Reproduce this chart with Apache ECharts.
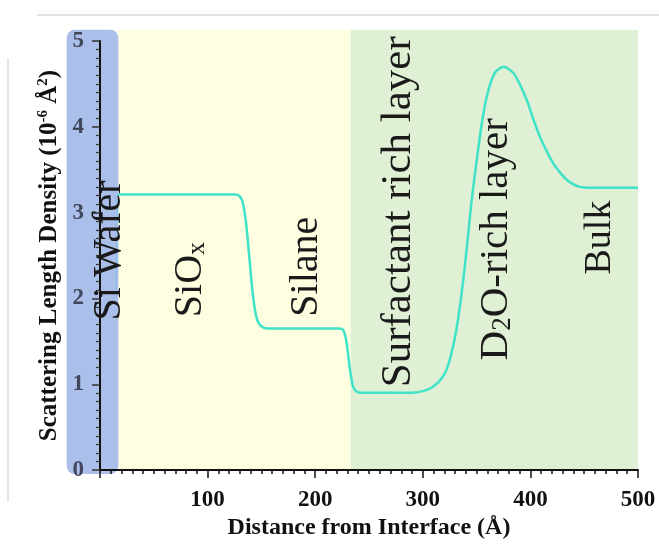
<!DOCTYPE html>
<html>
<head>
<meta charset="utf-8">
<script src="https://cdn.jsdelivr.net/npm/echarts@6/dist/echarts.min.js"></script>
<style>
html,body{margin:0;padding:0;background:#fff;}
#main{width:659px;height:545px;}
</style>
</head>
<body>
<div id="main"></div>
<script>
// SLD profile (distance in Å, SLD in 1e-6 Å^-2)
const distance=[0,14,16.5,20,125,130,133,136,139,142,145,148,152,156,222,226,229,232,235,238,242,
    290,300,308,315,321,326,331,336,341,345,350,355,360,367,375,384,390,397,403,409,415,421,428,434,440,446,455,500];
const sld=[2.07,2.07,3.21,3.21,3.21,3.19,3.1,2.85,2.45,2.05,1.8,1.7,1.66,1.65,1.65,1.63,1.5,1.2,0.98,0.92,0.9,
    0.9,0.92,0.96,1.03,1.14,1.33,1.62,2.05,2.6,3.1,3.6,4.05,4.38,4.63,4.70,4.63,4.5,4.3,4.08,3.88,3.72,3.58,3.46,3.38,3.33,3.30,3.29,3.29];

// layer names and where they sit (Å, SLD)
const layerNames=['Si Wafer','SiO{s|x}','Silane','Surfactant rich layer','D{s|2}O-rich layer','Bulk'];
const layerX=[9,84,192,278,368,465];
const layerY=[2.56,2.22,2.37,3.01,2.69,2.71];
const layerSize=[40,40,40,43,41,38];

// background bands: Si, SiOx+silane, liquid side
const bandFrom=[-31,17,233];
const bandTo=[17,233,500];
const bandColor=['rgba(162,184,233,0.9)','#fefee0','#dff0d4'];

const serif='"Liberation Serif","Times New Roman",serif';

const chart=echarts.init(document.getElementById('main'));

chart.setOption({
    animation:false,
    grid:{left:100,right:21,top:41,bottom:74},
    xAxis:{
        type:'value',min:0,max:500,interval:100,
        name:'Distance from Interface (Å)',
        nameLocation:'middle',nameGap:42,
        nameTextStyle:{fontFamily:serif,fontWeight:'bold',fontSize:24,color:'#111'},
        axisLine:{lineStyle:{color:'#111',width:2}},
        axisTick:{length:8,lineStyle:{color:'#111',width:1.5}},
        minorTick:{show:true,splitNumber:10,length:4,lineStyle:{color:'#111',width:1.5}},
        axisLabel:{fontFamily:serif,fontWeight:'bold',fontSize:23,color:'#111',margin:18,showMinLabel:false},
        splitLine:{show:false},
        z:4
    },
    yAxis:{
        type:'value',min:0,max:5,interval:1,
        name:'Scattering Length Density (10{sup|-6} Å{sup|2})',
        nameLocation:'middle',nameGap:37,
        nameTextStyle:{fontFamily:serif,fontWeight:'bold',fontSize:25,color:'#111',
            rich:{sup:{fontFamily:serif,fontWeight:'bold',fontSize:15,color:'#111',verticalAlign:'top',padding:[0,0,12,0]}}},
        axisLine:{lineStyle:{color:'#111',width:2}},
        axisTick:{length:8,lineStyle:{color:'#333',width:1.5}},
        minorTick:{show:true,splitNumber:10,length:4,lineStyle:{color:'#333',width:1.2}},
        axisLabel:{fontFamily:serif,fontWeight:'bold',fontSize:23,color:'#41465c',margin:16},
        splitLine:{show:false},
        z:4
    },
    series:[{
        type:'line',
        data:distance.map(function(d,i){return [d,sld[i]];}),
        showSymbol:false,
        smooth:0.25,
        lineStyle:{color:'#3ee3c8',width:2.5},
        z:2
    }]
});

// bands and layer names placed through the axes
let graphics=[];
let bandTop=chart.convertToPixel({gridIndex:0},[0,5.13])[1];
let bandBase=chart.convertToPixel({gridIndex:0},[0,0])[1];
bandFrom.forEach(function(f,i){
    let x0=chart.convertToPixel({gridIndex:0},[f,0])[0];
    let x1=chart.convertToPixel({gridIndex:0},[bandTo[i],0])[0];
    graphics.push({
        type:'rect',
        shape:{x:x0,y:bandTop,width:x1-x0,height:(i===0?bandBase+4:bandBase)-bandTop,r:i===0?8:0},
        style:{fill:bandColor[i]},
        z:i===0?3:-1,
        silent:true
    });
});
layerNames.forEach(function(name,i){
    let p=chart.convertToPixel({gridIndex:0},[layerX[i],layerY[i]]);
    graphics.push({
        type:'text',
        x:p[0],y:p[1],
        rotation:Math.PI/2,
        z:5,
        silent:true,
        style:{
            text:name,
            font:layerSize[i]+'px '+serif,
            fill:'#1a1a1a',
            align:'center',
            verticalAlign:'middle',
            rich:{s:{fontFamily:serif,fontSize:Math.round(layerSize[i]*0.65),fill:'#1a1a1a',verticalAlign:'bottom',padding:[14,0,0,0]}}
        }
    });
});
// page edges visible in the screenshot
graphics.push({type:'line',shape:{x1:37,y1:15,x2:659,y2:15},style:{stroke:'#c8c8c8',lineWidth:1},silent:true});
graphics.push({type:'line',shape:{x1:8,y1:58,x2:8,y2:502},style:{stroke:'#c8c8c8',lineWidth:1},silent:true});

chart.setOption({graphic:graphics});
</script>
</body>
</html>
